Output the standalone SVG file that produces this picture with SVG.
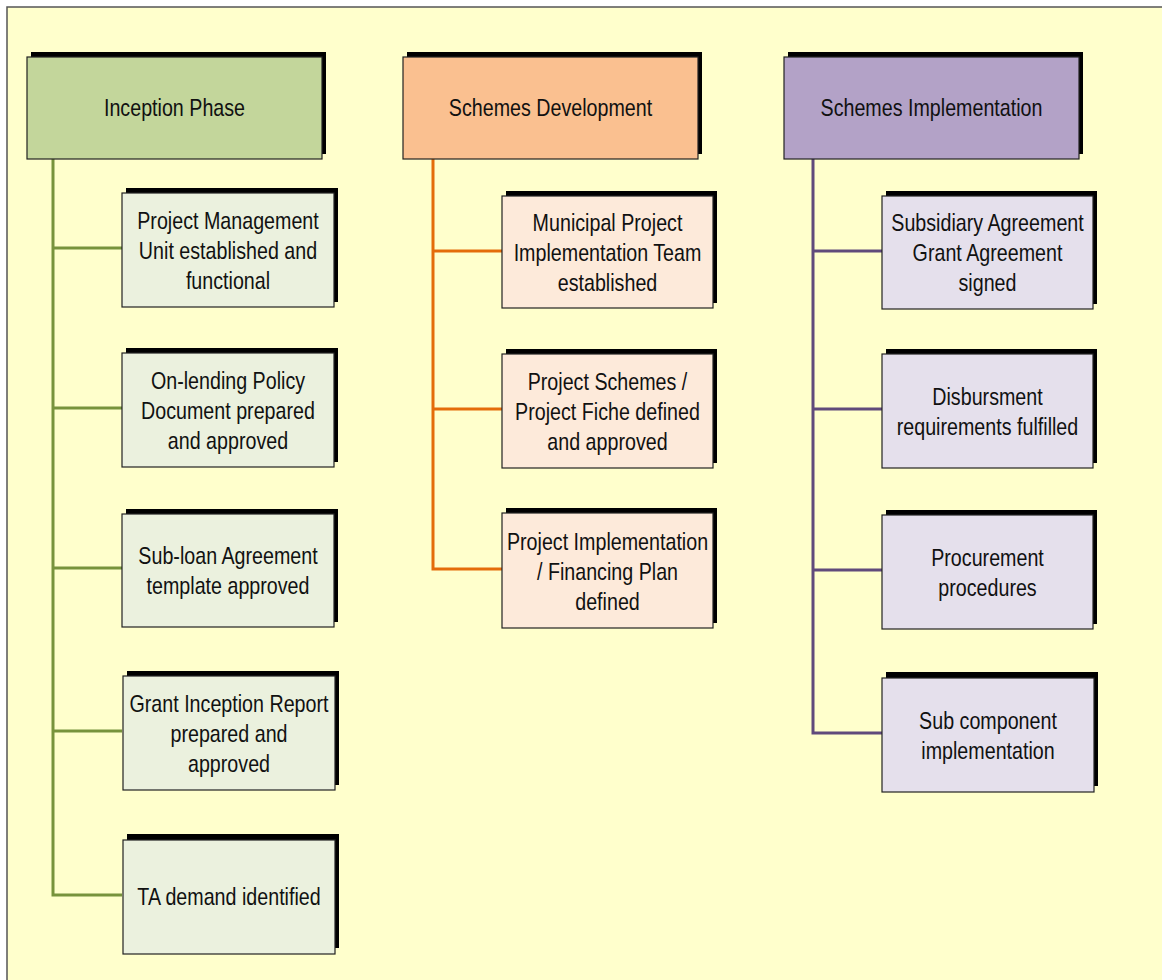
<svg xmlns="http://www.w3.org/2000/svg" width="1162" height="980" viewBox="0 0 1162 980">
<style>
.bg{fill:#FFFFCC;stroke:#555;stroke-width:1.5}
.sh{fill:#000}
.box{stroke:#222;stroke-width:1.2}
.h1{fill:#C3D69B}.h2{fill:#FAC090}.h3{fill:#B3A2C7}
.c1{fill:#EBF1DE}.c2{fill:#FDEADA}.c3{fill:#E5E0EC}
.t{font-family:"Liberation Sans",Arial,sans-serif;font-size:24px;fill:#111;text-anchor:middle}
.l{fill:none;stroke-width:3}
.g{stroke:#77933C}.o{stroke:#E46C0A}.p{stroke:#604A7B}
</style>
<rect width="1162" height="980" fill="#fff"/>
<rect class="bg" x="7" y="7" width="1170" height="990"/>
<g id="connectors">
<path class="l g" d="M53 159V895H122M53 248H122M53 408H122M53 568H122M53 731H122"/>
<path class="l o" d="M433 159V569H502M433 251H502M433 409H502"/>
<path class="l p" d="M813 159V733H882M813 251H882M813 409H882M813 570H882"/>
</g>
<g id="inception">
<rect class="sh" x="31" y="52" width="295" height="102"/>
<rect class="box h1" x="27" y="57" width="295" height="102"/>
<text class="t" transform="translate(174.5 0) scale(0.82 1)"><tspan x="0" y="116.5">Inception Phase</tspan></text>
</g>
<g id="development">
<rect class="sh" x="407" y="52" width="295" height="102"/>
<rect class="box h2" x="403" y="57" width="295" height="102"/>
<text class="t" transform="translate(550.5 0) scale(0.82 1)"><tspan x="0" y="116.5">Schemes Development</tspan></text>
</g>
<g id="implementation">
<rect class="sh" x="788" y="52" width="295" height="102"/>
<rect class="box h3" x="784" y="57" width="295" height="102"/>
<text class="t" transform="translate(931.5 0) scale(0.82 1)"><tspan x="0" y="116.5">Schemes Implementation</tspan></text>
</g>
<g id="pmu">
<rect class="sh" x="126" y="188" width="212" height="114"/>
<rect class="box c1" x="122" y="193" width="212" height="114"/>
<text class="t" transform="translate(228 0) scale(0.82 1)"><tspan x="0" y="229">Project Management</tspan><tspan x="0" y="259">Unit established and</tspan><tspan x="0" y="289">functional</tspan></text>
</g>
<g id="onlending">
<rect class="sh" x="126" y="348" width="212" height="114"/>
<rect class="box c1" x="122" y="353" width="212" height="114"/>
<text class="t" transform="translate(228 0) scale(0.82 1)"><tspan x="0" y="389">On-lending Policy</tspan><tspan x="0" y="419">Document prepared</tspan><tspan x="0" y="449">and approved</tspan></text>
</g>
<g id="subloan">
<rect class="sh" x="126" y="509" width="212" height="113"/>
<rect class="box c1" x="122" y="514" width="212" height="113"/>
<text class="t" transform="translate(228 0) scale(0.82 1)"><tspan x="0" y="564">Sub-loan Agreement</tspan><tspan x="0" y="594">template approved</tspan></text>
</g>
<g id="grant">
<rect class="sh" x="127" y="671" width="212" height="114"/>
<rect class="box c1" x="123" y="676" width="212" height="114"/>
<text class="t" transform="translate(229 0) scale(0.82 1)"><tspan x="0" y="712">Grant Inception Report</tspan><tspan x="0" y="742">prepared and</tspan><tspan x="0" y="772">approved</tspan></text>
</g>
<g id="ta">
<rect class="sh" x="127" y="834" width="212" height="114"/>
<rect class="box c1" x="123" y="840" width="212" height="114"/>
<text class="t" transform="translate(229 0) scale(0.82 1)"><tspan x="0" y="905">TA demand identified</tspan></text>
</g>
<g id="mpit">
<rect class="sh" x="506" y="191" width="211" height="112"/>
<rect class="box c2" x="502" y="196" width="211" height="112"/>
<text class="t" transform="translate(607.5 0) scale(0.82 1)"><tspan x="0" y="231">Municipal Project</tspan><tspan x="0" y="261">Implementation Team</tspan><tspan x="0" y="291">established</tspan></text>
</g>
<g id="schemes">
<rect class="sh" x="506" y="349" width="211" height="114"/>
<rect class="box c2" x="502" y="354" width="211" height="114"/>
<text class="t" transform="translate(607.5 0) scale(0.82 1)"><tspan x="0" y="390">Project Schemes /</tspan><tspan x="0" y="420">Project Fiche defined</tspan><tspan x="0" y="450">and approved</tspan></text>
</g>
<g id="financing">
<rect class="sh" x="506" y="508" width="211" height="115"/>
<rect class="box c2" x="502" y="513" width="211" height="115"/>
<text class="t" transform="translate(607.5 0) scale(0.82 1)"><tspan x="0" y="550">Project Implementation</tspan><tspan x="0" y="580">/ Financing Plan</tspan><tspan x="0" y="610">defined</tspan></text>
</g>
<g id="subsidiary">
<rect class="sh" x="886" y="191" width="211" height="113"/>
<rect class="box c3" x="882" y="196" width="211" height="113"/>
<text class="t" transform="translate(987.5 0) scale(0.82 1)"><tspan x="0" y="231">Subsidiary Agreement</tspan><tspan x="0" y="261">Grant Agreement</tspan><tspan x="0" y="291">signed</tspan></text>
</g>
<g id="disbursment">
<rect class="sh" x="886" y="349" width="211" height="114"/>
<rect class="box c3" x="882" y="354" width="211" height="114"/>
<text class="t" transform="translate(987.5 0) scale(0.82 1)"><tspan x="0" y="405">Disbursment</tspan><tspan x="0" y="435">requirements fulfilled</tspan></text>
</g>
<g id="procurement">
<rect class="sh" x="886" y="510" width="211" height="114"/>
<rect class="box c3" x="882" y="515" width="211" height="114"/>
<text class="t" transform="translate(987.5 0) scale(0.82 1)"><tspan x="0" y="566">Procurement</tspan><tspan x="0" y="596">procedures</tspan></text>
</g>
<g id="subcomponent">
<rect class="sh" x="886" y="672" width="212" height="114"/>
<rect class="box c3" x="882" y="678" width="212" height="114"/>
<text class="t" transform="translate(988 0) scale(0.82 1)"><tspan x="0" y="729">Sub component</tspan><tspan x="0" y="759">implementation</tspan></text>
</g>
</svg>
